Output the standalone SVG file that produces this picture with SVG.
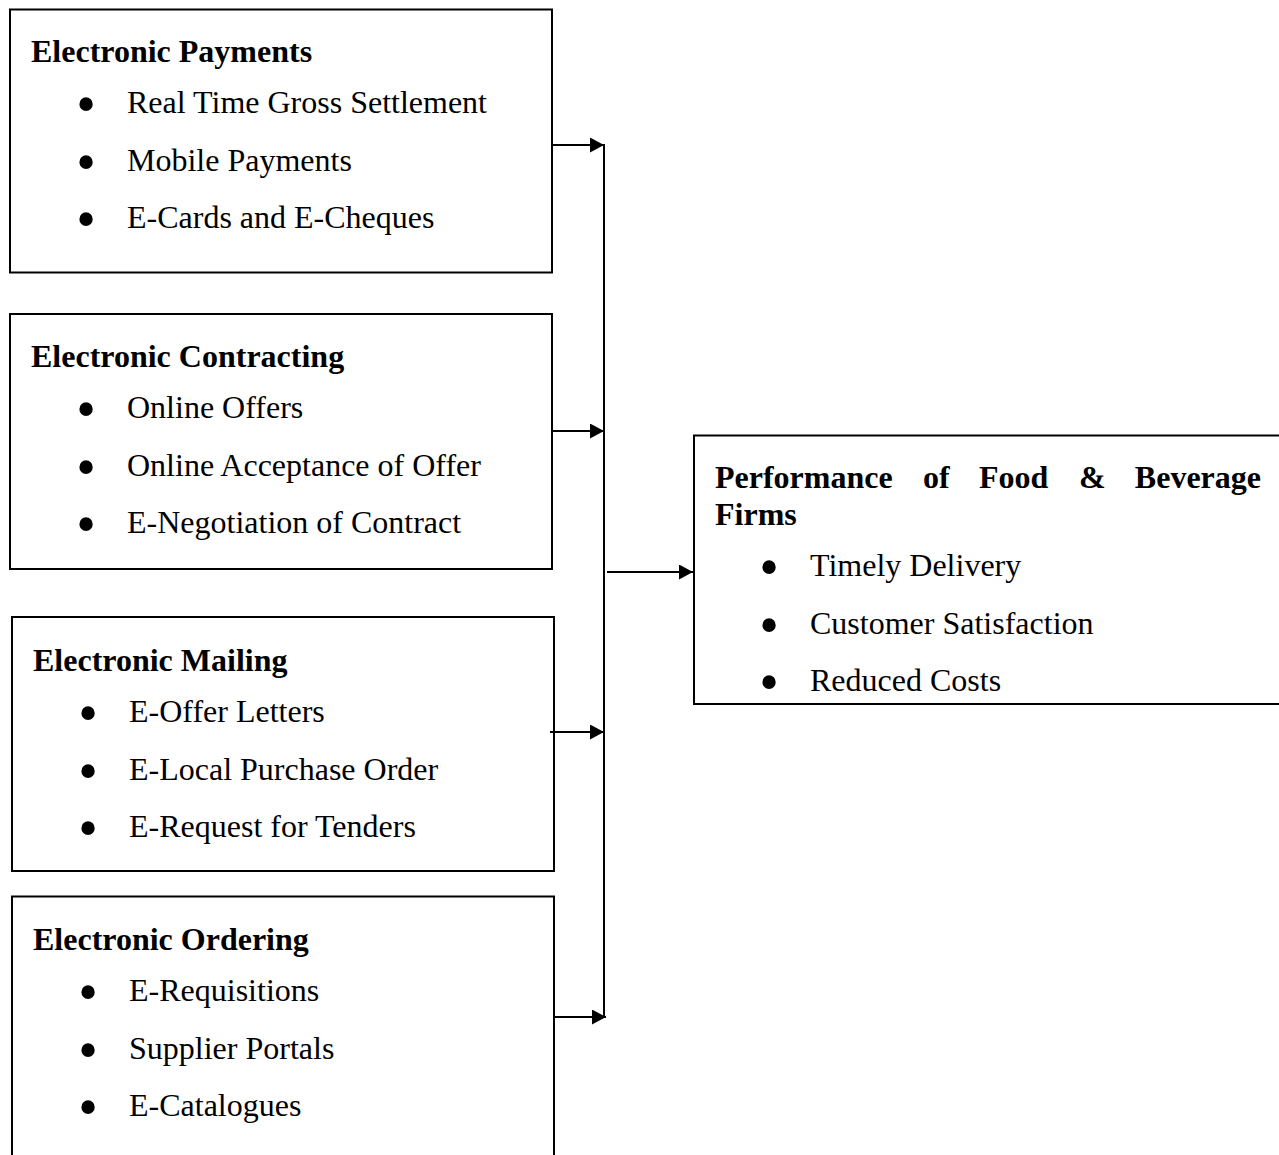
<svg xmlns="http://www.w3.org/2000/svg" width="1279" height="1155" viewBox="0 0 1279 1155">
<style>
  .box { fill: #ffffff; stroke: #000000; stroke-width: 2; }
  .hd { font-family: "Liberation Serif", "Times New Roman", serif; font-weight: bold; font-size: 32px; fill: #000; }
  .it { font-family: "Liberation Serif", "Times New Roman", serif; font-size: 32px; fill: #000; }
  .bl { font-family: "Liberation Serif", "Times New Roman", serif; font-size: 56px; fill: #000; text-anchor: middle; }
  .cn { stroke: #000; stroke-width: 2; fill: none; }
</style>
<defs>
  <marker id="arr" markerWidth="14" markerHeight="15" refX="14" refY="7.5" orient="auto" markerUnits="userSpaceOnUse">
    <path d="M0,0 L14,7.5 L0,15 Z" fill="#000"/>
  </marker>
</defs>
<rect width="1279" height="1155" fill="#ffffff"/>

<g id="payments">
  <rect class="box" x="10" y="9.5" width="542" height="263"/>
  <text class="hd" x="31" y="62">Electronic Payments</text>
  <text class="bl" x="86" y="123">•</text><text class="it" x="127" y="113">Real Time Gross Settlement</text>
  <text class="bl" x="86" y="181">•</text><text class="it" x="127" y="171">Mobile Payments</text>
  <text class="bl" x="86" y="238">•</text><text class="it" x="127" y="228">E-Cards and E-Cheques</text>
</g>

<g id="contracting">
  <rect class="box" x="10" y="314" width="542" height="255"/>
  <text class="hd" x="31" y="367">Electronic Contracting</text>
  <text class="bl" x="86" y="428">•</text><text class="it" x="127" y="418">Online Offers</text>
  <text class="bl" x="86" y="486">•</text><text class="it" x="127" y="476">Online Acceptance of Offer</text>
  <text class="bl" x="86" y="543">•</text><text class="it" x="127" y="533">E-Negotiation of Contract</text>
</g>

<g id="mailing">
  <rect class="box" x="12" y="617" width="542" height="254"/>
  <text class="hd" x="33" y="671">Electronic Mailing</text>
  <text class="bl" x="88" y="732">•</text><text class="it" x="129" y="722">E-Offer Letters</text>
  <text class="bl" x="88" y="790">•</text><text class="it" x="129" y="780">E-Local Purchase Order</text>
  <text class="bl" x="88" y="847">•</text><text class="it" x="129" y="837">E-Request for Tenders</text>
</g>

<g id="ordering">
  <rect class="box" x="12" y="896.5" width="542" height="280"/>
  <text class="hd" x="33" y="950">Electronic Ordering</text>
  <text class="bl" x="88" y="1011">•</text><text class="it" x="129" y="1001">E-Requisitions</text>
  <text class="bl" x="88" y="1069">•</text><text class="it" x="129" y="1059">Supplier Portals</text>
  <text class="bl" x="88" y="1126">•</text><text class="it" x="129" y="1116">E-Catalogues</text>
</g>

<g id="performance">
  <rect class="box" x="694" y="435.5" width="620" height="268.5"/>
  <text class="hd" y="488"><tspan x="715">Performance</tspan><tspan x="923">of</tspan><tspan x="979">Food</tspan><tspan x="1079">&amp;</tspan><tspan x="1261" text-anchor="end">Beverage</tspan></text>
  <text class="hd" x="715" y="525">Firms</text>
  <text class="bl" x="769" y="586">•</text><text class="it" x="810" y="576">Timely Delivery</text>
  <text class="bl" x="769" y="644">•</text><text class="it" x="810" y="634">Customer Satisfaction</text>
  <text class="bl" x="769" y="701">•</text><text class="it" x="810" y="691">Reduced Costs</text>
</g>

<g id="connectors">
  <line class="cn" x1="604" y1="144" x2="604" y2="1018"/>
  <line class="cn" x1="552" y1="145" x2="604" y2="145" marker-end="url(#arr)"/>
  <line class="cn" x1="552" y1="431" x2="604" y2="431" marker-end="url(#arr)"/>
  <line class="cn" x1="550" y1="732" x2="604" y2="732" marker-end="url(#arr)"/>
  <line class="cn" x1="553" y1="1017" x2="606" y2="1017" marker-end="url(#arr)"/>
  <line class="cn" x1="607" y1="572" x2="693" y2="572" marker-end="url(#arr)"/>
</g>
</svg>
